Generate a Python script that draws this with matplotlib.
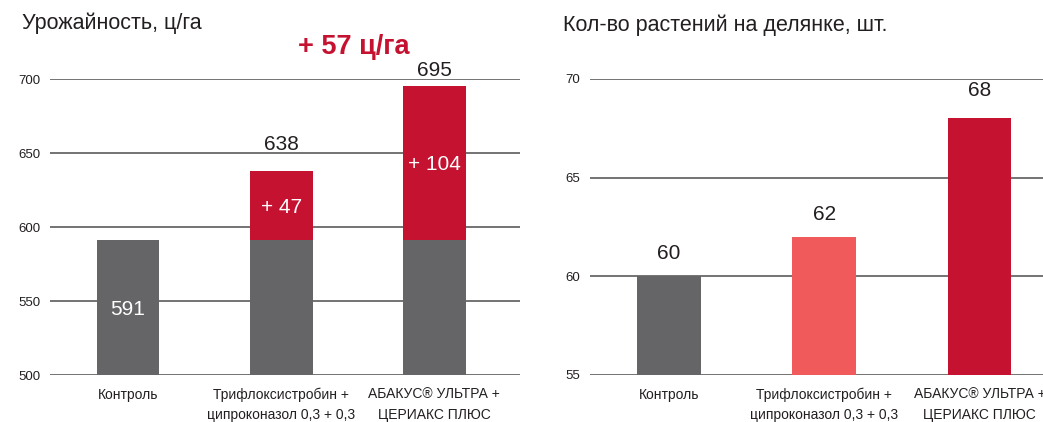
import matplotlib
matplotlib.use("Agg")
import matplotlib.pyplot as plt
import numpy as np

plt.rcParams['font.family'] = ['Liberation Sans', 'DejaVu Sans']

# data
categories = ["Контроль", "Трифлоксистробин +\nципроконазол 0,3 + 0,3",
              "АБАКУС® УЛЬТРА +\nЦЕРИАКС ПЛЮС"]
yield_base = [591, 591, 591]
yield_gain = [0, 47, 104]
yield_total = [591, 638, 695]
plants = [60, 62, 68]
yield_ticks = [500, 550, 600, 650, 700]
plant_ticks = [55, 60, 65, 70]
extra_label = "+ 57 ц/га"

GRAY = "#656567"
RED = "#c41230"
LIGHT_RED = "#f05a5a"
GRID = "#4d4d4d"
TEXT = "#231f20"

fig = plt.figure(figsize=(10.43, 4.22), dpi=100)
W, H = 1043, 422

def px_axes(x0, x1, ytop, ybot):
    return fig.add_axes([x0 / W, 1 - ybot / H, (x1 - x0) / W, (ybot - ytop) / H])

def style(ax, ticks, ylim):
    ax.set_ylim(*ylim)
    ax.set_yticks(ticks)
    ax.yaxis.grid(True, color=GRID, linewidth=1.1)
    ax.set_axisbelow(True)
    for s in ax.spines.values():
        s.set_visible(False)
    ax.tick_params(axis='both', length=0, labelsize=9.5, colors=TEXT)
    ax.tick_params(axis='y', pad=7)
    ax.tick_params(axis='x', pad=9)
    ax.set_xticks(range(len(categories)))
    ax.set_xticklabels(categories, linespacing=1.55, fontsize=10)

def label_above(ax, xi, val, off_px):
    # off_px: distance from bar top to the label centre, in pixels
    ax.annotate(str(val), (xi, val), xytext=(0, off_px * 0.72),
                textcoords='offset points', ha='center', va='center', fontsize=15,
                color=TEXT, annotation_clip=False)

# left chart: yield
ax1 = px_axes(50, 520, 79, 375)
x = np.arange(len(categories))
w = 0.41
ax1.bar(x, yield_base, width=w, color=GRAY)
ax1.bar(x, yield_gain, width=w, color=RED, bottom=yield_base)
style(ax1, yield_ticks, (500, 700))
ax1.set_xlim(-0.51, 2.56)

ax1.text(x[0], 544, str(yield_base[0]), color="white",
         ha='center', va='center', fontsize=15)
for i in (1, 2):
    ax1.text(x[i], yield_base[i] + yield_gain[i] / 2 - 1, "+ %d" % yield_gain[i], color="white",
             ha='center', va='center', fontsize=15)
offsets = [0, 26.5, 16]
for i in (1, 2):
    label_above(ax1, x[i], yield_total[i], offsets[i])

fig.text(22 / W, 1 - 23 / H, "Урожайность, ц/га", fontsize=15.5, color=TEXT, va='center', ha='left')
fig.text(354 / W, 1 - 47 / H, extra_label, fontsize=19.5, color=RED, fontweight='bold',
         va='center', ha='center')

# right chart: plants
ax2 = px_axes(590, 1043, 79, 375)
colors2 = [GRAY, LIGHT_RED, RED]
ax2.bar(x, plants, width=w, color=colors2)
style(ax2, plant_ticks, (55, 70))
ax2.set_xlim(-0.51, 2.41)
offsets2 = [23, 22.5, 27.5]
for i in range(3):
    label_above(ax2, x[i], plants[i], offsets2[i])

fig.text(563 / W, 1 - 25 / H, "Кол-во растений на делянке, шт.", fontsize=15.5, color=TEXT,
         va='center', ha='left')

fig.savefig("out.png", dpi=100)
